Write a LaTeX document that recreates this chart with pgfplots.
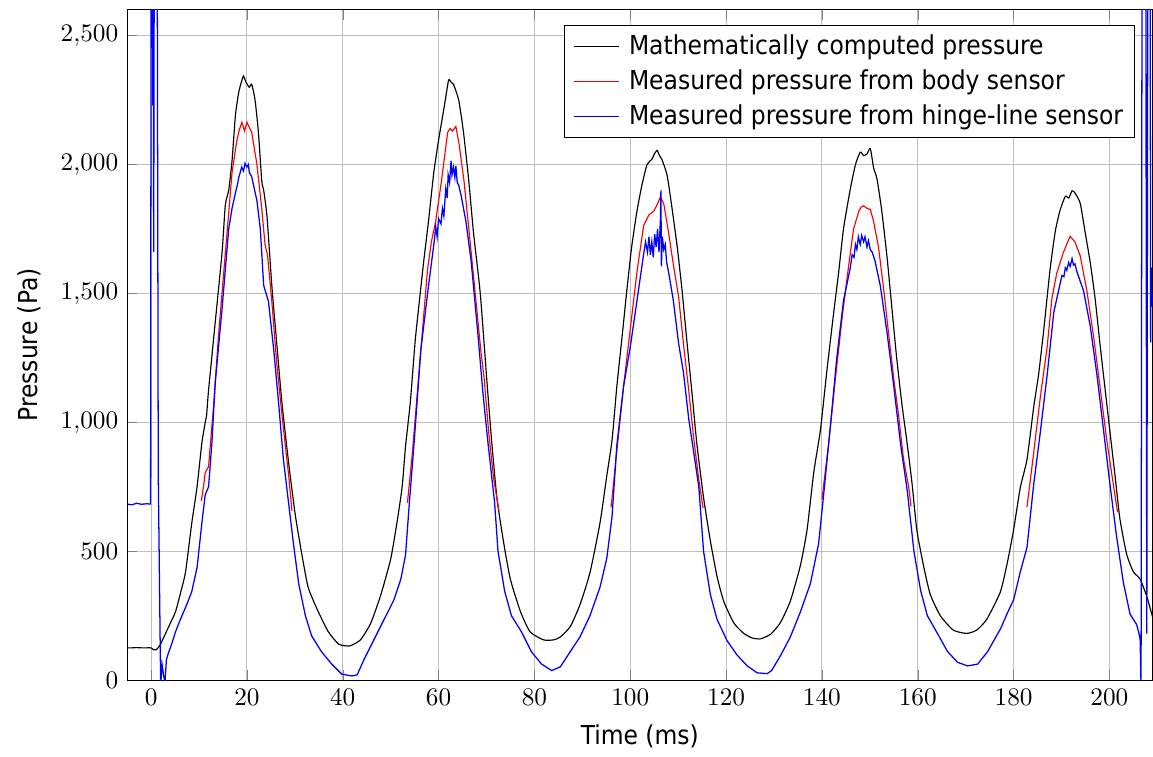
\documentclass[border=0pt,11pt]{standalone}
\usepackage{fontspec}
\usepackage{pgfplots}
\pgfplotsset{compat=1.18}
\newfontfamily\labelfont{DejaVu Sans Condensed}
\newcommand\lblfont{\fontsize{11.3}{13.6}\selectfont\labelfont}

\begin{document}
\begin{tikzpicture}
\begin{axis}[
  scale only axis, width=444.5pt, height=290.5pt,
  xmin=-5, xmax=209, ymin=0, ymax=2600,
  xtick={0,20,...,200}, ytick={0,500,...,2500},
  grid=major,
  xlabel={Time (ms)}, ylabel={Pressure (Pa)},
  label style={font=\lblfont},
  ylabel shift=1.2pt, xlabel shift=1pt,
  legend style={font=\lblfont, at={(0.983,0.978)}, anchor=north east, row sep=1.1pt},
  legend cell align=left,
  legend image code/.code={\draw[#1] (0.03cm,0cm) -- (0.72cm,0cm); \path (0cm,0cm) (0.79cm,0cm);},
  unbounded coords=jump,
  every axis plot/.append style={line width=0.5pt},
]
\addlegendimage{black}
\addlegendentry{Mathematically computed pressure}
\addlegendimage{red}
\addlegendentry{Measured pressure from body sensor}
\addlegendimage{blue}
\addlegendentry{Measured pressure from hinge-line sensor}
% computed
\addplot[black, forget plot, smooth, tension=0.35] coordinates {
(-5,125)(-4,125)(-3,126)(-2,125)(-1,125)(0,125)(0.5,118)(1.0,117)(1.5,126)(2.0,140)
(3.0,180)(4.0,220)(5.1,265)(6.1,335)(7.2,420)(8.5,610)(9.6,750)(10.6,920)(11.3,1000)(11.6,1030)
(12.0,1125)(13.4,1390)(14.8,1656)(15.5,1844)(16.2,1900)(16.9,2015)(17.6,2190)(18.3,2281)(19.0,2330)(19.3,2344)
(19.8,2320)(20.5,2300)(21.0,2312)(21.7,2250)(22.4,2125)(23.1,1937)(23.5,1900)(24.2,1797)(25.2,1531)(26.2,1312)
(27.3,1078)(28.7,844)(30.1,640)(31.5,484)(32.8,359)(34.9,265)(37.0,187)(39.1,140)(40.5,133)(41.6,133)
(43.7,156)(45.8,219)(47.9,328)(50.0,469)(51.3,609)(52.4,750)(53.1,906)(54.1,1078)(55.1,1312)(55.8,1437)
(56.9,1625)(57.9,1781)(59.0,1969)(60.0,2094)(60.7,2172)(61.4,2250)(62.1,2328)(62.6,2320)(63.1,2312)(64.2,2250)
(65.2,2125)(66.3,1937)(67.3,1734)(68.7,1500)(70.1,1156)(71.1,922)(72.2,703)(73.6,531)(75.0,390)(77.1,265)
(79.1,187)(81.9,156)(84.0,156)(85.4,167)(87.5,208)(89.5,292)(91.6,417)(93.7,611)(95.1,792)(96.2,931)
(97.2,1139)(98.3,1333)(99.3,1514)(100.3,1681)(101.4,1819)(102.4,1917)(103.5,2000)(104.5,2020)(105.0,2040)(105.6,2055)
(106.1,2035)(106.6,2020)(107.7,1958)(108.7,1833)(109.8,1681)(110.8,1514)(111.8,1319)(112.9,1111)(113.9,917)(115.3,708)
(116.7,542)(118.1,403)(119.5,306)(121.6,222)(123.7,181)(125.5,163)(127.2,160)(129.3,178)(131.3,222)(133.4,306)
(135.5,444)(136.9,583)(138.3,806)(139.7,972)(141.0,1194)(142.4,1417)(143.5,1583)(144.5,1750)(145.9,1903)(147.0,2000)
(148.0,2048)(148.7,2035)(149.4,2041)(150.1,2062)(150.8,1986)(151.5,1944)(152.5,1819)(153.6,1639)(154.6,1444)(155.6,1250)
(156.7,1069)(157.7,931)(158.8,764)(159.8,583)(161.2,444)(162.6,333)(164.7,250)(167.4,194)(170.2,181)(172.3,194)
(174.4,236)(177.2,340)(178.6,447)(180.0,583)(181.4,747)(182.8,856)(184.2,1060)(185.2,1183)(186.3,1360)(187.6,1591)
(188.7,1741)(189.7,1823)(190.8,1877)(191.5,1870)(192.2,1898)(192.8,1890)(193.9,1850)(194.9,1741)(196.0,1619)(197.0,1482)
(198.1,1292)(199.1,1128)(200.1,965)(201.2,788)(202.2,624)(203.6,488)(205.0,420)(206.4,392)(207.8,324)(209.0,245)
};
% body sensor
\addplot[red, forget plot] coordinates {
(10.5,695)(11.0,760)(11.3,805)(12.0,828)(13.1,1078)(14.1,1344)(15.5,1656)(16.9,1969)(17.9,2094)(18.5,2140)
(18.96,2164)(19.5,2130)(20.0,2164)(21.0,2125)(22.1,2000)(23.1,1828)(23.8,1687)(24.3,1650)(25.2,1469)(26.2,1234)
(27.3,1031)(28.7,797)(29.4,656)(29.5,nan)
(53.5,687)(54.5,875)(56.3,1281)(57.7,1594)(58.5,1700)(59.4,1781)(60.5,1922)(61.9,2125)(62.4,2140)(62.9,2130)
(63.6,2148)(64.3,2078)(65.3,1937)(66.4,1734)(67.4,1547)(68.8,1281)(69.5,1172)(70.5,953)(71.5,781)(72.6,656)(72.7,nan)
(96.0,670)(97.2,889)(98.6,1139)(100.0,1361)(101.4,1583)(102.8,1764)(103.9,1805)(104.9,1819)(105.5,1840)(106.0,1861)
(106.3,1875)(107.0,1847)(108.0,1736)(109.0,1611)(110.1,1486)(111.1,1305)(112.2,1125)(113.2,945)(114.3,778)(115.2,667)(115.3,nan)
(140.0,701)(141.4,917)(142.8,1167)(144.2,1403)(145.6,1611)(146.6,1750)(147.7,1819)(148.2,1835)(148.7,1840)(149.4,1830)
(150.1,1826)(150.8,1778)(151.8,1681)(152.9,1514)(153.9,1347)(155.0,1167)(156.0,1028)(157.0,861)(158.1,750)(158.6,674)(158.7,nan)
(182.8,672)(184.2,883)(185.6,1101)(187.0,1292)(188.0,1482)(189.0,1578)(190.4,1660)(191.8,1722)(192.8,1700)(193.9,1646)
(195.3,1510)(196.7,1332)(198.1,1128)(199.4,937)(200.8,760)(201.7,651)
};
% hinge-line sensor
\addplot[blue, forget plot, line width=0.55pt] coordinates {
(-5,683)(-4,680)(-3,686)(-2,682)(-1,684)(-0.1,683)(0.0,2700)(0.3,2700)(0.35,2230)(0.45,2700)
(0.55,1660)(0.65,2700)(1.3,2700)(1.5,800)(2.0,-20)(2.3,60)(2.6,20)(2.9,-10)(3.2,80)(3.7,109)
(4.3,140)(5.1,187)(6.0,230)(6.8,265)(7.6,300)(8.5,344)(9.6,437)(10.6,609)(11.3,719)(12.0,750)
(12.7,922)(13.4,1156)(14.8,1437)(16.2,1750)(16.9,1830)(17.6,1890)(18.0,1920)(18.3,1950)(18.6,1969)(18.9,1990)
(19.3,1975)(19.6,2005)(20.0,1990)(20.3,2000)(20.5,1970)(21.0,1953)(22.1,1859)(22.8,1750)(23.5,1531)(24.5,1469)
(25.6,1281)(26.6,1078)(27.6,859)(28.7,687)(29.7,531)(30.8,375)(32.2,250)(33.5,172)(35.6,109)(37.7,62)
(39.8,23)(41.9,16)(43.0,20)(44.4,78)(46.5,156)(48.6,234)(50.7,312)(52.1,390)(53.1,484)(53.9,687)
(54.9,922)(56.3,1281)(57.7,1500)(59.1,1703)(59.4,1760)(59.7,1720)(60.0,1790)(60.5,1770)(60.8,1830)(61.1,1800)
(61.5,1906)(61.8,1870)(62.0,1960)(62.3,1930)(62.6,2015)(62.8,1960)(63.1,1990)(63.4,1950)(63.6,1995)(63.9,1930)
(64.2,1920)(64.7,1880)(65.0,1850)(65.3,1820)(65.7,1781)(66.8,1625)(68.2,1344)(69.2,1125)(70.3,922)(71.7,687)
(72.4,500)(73.8,344)(75.2,250)(77.3,187)(79.4,109)(81.5,62)(83.6,37)(85.4,51)(87.5,111)(89.5,167)
(91.6,250)(93.7,361)(95.1,472)(96.2,635)(97.2,911)(98.6,1139)(100.0,1292)(101.4,1472)(102.8,1653)(103.2,1700)
(103.6,1660)(103.9,1720)(104.2,1650)(104.5,1700)(104.8,1640)(105.1,1730)(105.4,1680)(105.7,1750)(106.0,1660)(106.3,1790)
(106.4,1900)(106.5,1605)(106.7,1720)(107.0,1670)(107.3,1690)(107.6,1620)(108.0,1583)(109.0,1472)(110.1,1305)(111.1,1194)
(112.2,1014)(113.2,889)(114.3,750)(115.3,500)(116.7,333)(118.1,236)(120.2,153)(122.3,97)(124.4,55)(126.5,28)
(128.6,25)(129.5,37)(131.3,93)(133.4,167)(135.5,264)(137.6,375)(139.3,528)(140.3,708)(141.7,972)(143.1,1250)
(144.5,1472)(145.9,1597)(146.3,1650)(146.7,1640)(147.0,1690)(147.3,1670)(147.6,1720)(148.0,1690)(148.3,1725)(148.7,1700)
(149.0,1720)(149.4,1680)(149.7,1705)(150.1,1670)(150.5,1660)(151.1,1625)(152.2,1528)(153.6,1347)(155.0,1139)(156.4,917)
(157.8,736)(159.2,500)(160.6,347)(162.0,250)(164.1,181)(166.2,111)(168.3,69)(170.4,55)(172.5,62)(174.6,111)
(177.3,200)(178.6,256)(180.0,311)(181.4,420)(182.8,515)(184.2,760)(185.6,965)(187.0,1183)(188.4,1428)(189.7,1537)
(190.1,1570)(190.5,1565)(190.8,1600)(191.1,1590)(191.5,1620)(191.8,1605)(192.2,1635)(192.5,1610)(192.8,1615)(193.2,1585)
(194.6,1510)(196.0,1373)(197.4,1183)(198.8,965)(200.1,760)(201.5,556)(202.9,379)(204.3,256)(205.7,215)(206.4,161)
(206.6,-30)(206.8,2700)(207.6,2700)(207.8,180)(208.0,2700)(208.5,2700)(208.6,1310)(208.7,1600)(208.8,1450)(209.0,1500)
};
\end{axis}
\path (current axis.north) ++(0,4.3pt);
\path (current axis.south west) ++(-55.1pt,-31.7pt);
\end{tikzpicture}
\end{document}
